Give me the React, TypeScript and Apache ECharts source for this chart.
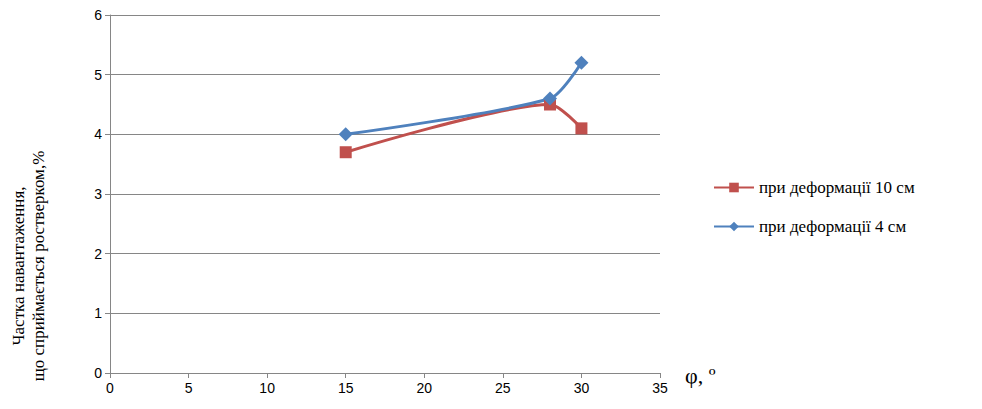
import React, { useEffect, useRef } from "react";
import * as echarts from "echarts";

const xRed = [15, 28, 30];
const yRed = [3.7, 4.5, 4.1];
const xBlue = [15, 28, 30];
const yBlue = [4.0, 4.6, 5.2];
const redName = "при деформації 10 см";
const blueName = "при деформації 4 см";

export default function App() {
  const ref = useRef<HTMLDivElement>(null);
  useEffect(() => {
    const chart = echarts.init(ref.current!, null, { renderer: "svg" });
    chart.setOption({
      animation: false,
      backgroundColor: "#fff",
      grid: { left: 102, right: 314, top: 5, bottom: 28 },
      legend: {
        orient: "vertical",
        left: 700,
        top: 166,
        itemGap: 22,
        itemWidth: 40,
        itemHeight: 12,
        textStyle: { fontFamily: "Liberation Serif", fontSize: 17, color: "#000" },
        data: [redName, blueName],
      },
      xAxis: {
        type: "value",
        min: 0,
        max: 35,
        interval: 5,
        splitLine: { show: false },
        axisLine: { lineStyle: { color: "#868686" } },
        axisTick: { show: true, lineStyle: { color: "#868686" }, length: 5 },
        axisLabel: { color: "#000", fontFamily: "Liberation Sans", fontSize: 14 },
      },
      yAxis: {
        type: "value",
        min: 0,
        max: 6,
        interval: 1,
        splitLine: { lineStyle: { color: "#868686" } },
        axisLine: { show: true, lineStyle: { color: "#868686" } },
        axisTick: { show: true, lineStyle: { color: "#868686" }, length: 5 },
        axisLabel: { color: "#000", fontFamily: "Liberation Sans", fontSize: 14 },
      },
      graphic: [
        {
          type: "text",
          x: 677,
          y: 356,
          style: { text: "φ, º", font: "22px 'Liberation Serif'", fill: "#000" },
        },
        {
          type: "text",
          x: 20,
          y: 258,
          rotation: Math.PI / 2,
          style: {
            text: "Частка навантаження,\nщо сприймається ростверком,%",
            font: "17px 'Liberation Serif'",
            fill: "#000",
            align: "center",
            verticalAlign: "middle",
            lineHeight: 20,
          },
        },
      ],
      series: [
        {
          name: redName,
          type: "line",
          smooth: 0.25,
          data: xRed.map((x, i) => [x, yRed[i]]),
          symbol: "rect",
          symbolSize: 12,
          lineStyle: { width: 3, color: "#C0504D" },
          itemStyle: { color: "#C0504D" },
        },
        {
          name: blueName,
          type: "line",
          smooth: 0.25,
          data: xBlue.map((x, i) => [x, yBlue[i]]),
          symbol: "diamond",
          symbolSize: 14,
          lineStyle: { width: 3, color: "#4F81BD" },
          itemStyle: { color: "#4F81BD" },
        },
      ],
    });
    return () => chart.dispose();
  }, []);
  return <div ref={ref} style={{ width: 966, height: 393 }} />;
}
